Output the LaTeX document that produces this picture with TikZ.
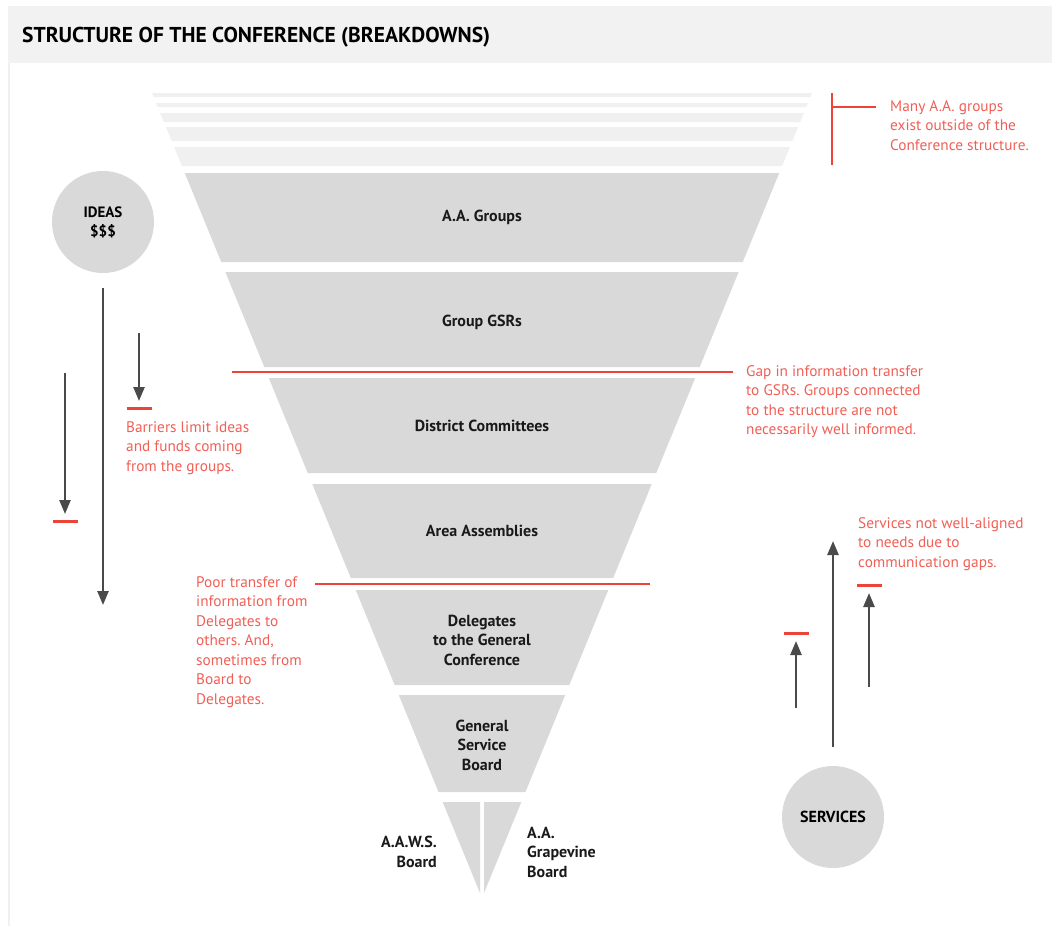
\documentclass[tikz,border=0pt]{standalone}
\usepackage{fontspec}
\setmainfont{PT Sans}
\usetikzlibrary{positioning, arrows.meta}
\definecolor{bandgray}{HTML}{D9D9D9}
\definecolor{fadegray}{HTML}{F0F0F0}
\definecolor{titlegray}{HTML}{F2F2F2}
\definecolor{alertred}{HTML}{EE4338}
\definecolor{flowgray}{HTML}{4A4A4A}
\newcommand{\funnelband}[3]{\fill[#3] ({482-0.41*(898-#1)},#1) -- ({482+0.41*(898-#1)},#1) -- ({482+0.41*(898-#2)},#2) -- ({482-0.41*(898-#2)},#2) -- cycle;}
\frenchspacing

\begin{document}
\begin{tikzpicture}[x=1pt, y=-1pt,
	tier/.style={font=\bfseries\fontsize{16}{19.5}\selectfont, align=center, text=black!90},
	note/.style={font=\fontsize{15.3}{19.5}\selectfont, text=alertred!85, align=left, anchor=north west, inner sep=0pt},
	hub/.style={circle, fill=bandgray, minimum size=102pt, inner sep=0pt, font=\bfseries\fontsize{15}{19}\selectfont, align=center},
	flow/.style={line width=2.5pt, draw=flowgray, -{Triangle[length=14pt,width=11pt]}},
	barrier/.style={line width=3pt, alertred},
	redline/.style={line width=2.5pt, alertred}]
			\useasboundingbox	(0,0) rectangle (1052,926);
			\fill	[titlegray]	(8,6) rectangle (1052,63);
			\draw	[line width=2pt, fadegray]	(9,63) -- (9,926);
			\node	(title)	at	(22,42)	[anchor=base west, inner sep=0pt, font=\bfseries\fontsize{21.5}{24}\selectfont]	{STRUCTURE OF THE CONFERENCE (BREAKDOWNS)};

			\foreach \t/\b in {93/97, 103/107, 113/122, 127/141, 147/166}
				\funnelband{\t}{\b}{fadegray};
			\foreach \t/\b in {173/262, 272/367, 378/473, 484/578, 590/685, 695/792}
				\funnelband{\t}{\b}{bandgray};
			\fill	[bandgray]	({482-0.41*96},802) -- (480,802) -- (480,893) -- cycle;
			\fill	[bandgray]	(484,802) -- ({482+0.41*96},802) -- (484,893) -- cycle;

			\node	(groups)	at	(482,217)	[tier]	{A.A. Groups};
			\node	(gsrs)		at	(482,322)	[tier]	{Group GSRs};
			\node	(district)	at	(482,426)	[tier]	{District Committees};
			\node	(area)		at	(482,531)	[tier]	{Area Assemblies};
			\node	(delegates)	at	(482,640)	[tier]	{Delegates\\to the General\\Conference};
			\node	(gsb)		at	(482,745)	[tier]	{General\\Service\\Board};
			\node	(aaws)		at	(437,852)	[tier, anchor=east, align=right, inner sep=0pt]	{A.A.W.S.\\Board};
			\node	(grapevine)	at	(527,852)	[tier, anchor=west, align=left, inner sep=0pt]	{A.A.\\Grapevine\\Board};

			\node	(ideas)		at	(103,222)	[hub]	{IDEAS\\\$\$\$};
			\node	(services)	at	(833,817)	[hub, font=\bfseries\fontsize{16}{19}\selectfont]	{SERVICES};

			\coordinate	(ideasend)		at	(103,605);
			\coordinate	(downAfoot)		at	(139,333);
			\coordinate	(downAtip)		at	(139,401);
			\coordinate	(downAbar)		at	(139,408);
			\coordinate	(downBfoot)		at	(65,373);
			\coordinate	(downBtip)		at	(65,514);
			\coordinate	(downBbar)		at	(65,521);
			\coordinate	(servicesend)	at	(833,541);
			\coordinate	(upAfoot)		at	(796,708);
			\coordinate	(upAtip)		at	(796,641);
			\coordinate	(upAbar)		at	(796,633);
			\coordinate	(upBfoot)		at	(869,687);
			\coordinate	(upBtip)		at	(869,593);
			\coordinate	(upBbar)		at	(869,585);

			\draw	[flow, shorten <=15pt]	(ideas)		-- (ideasend);
			\draw	[flow]					(downAfoot)	-- (downAtip);
			\draw	[flow]					(downBfoot)	-- (downBtip);
			\draw	[flow, shorten <=19pt]	(services)	-- (servicesend);
			\draw	[flow]					(upAfoot)	-- (upAtip);
			\draw	[flow]					(upBfoot)	-- (upBtip);
			\foreach \m in {downAbar, downBbar, upAbar, upBbar}
				\draw	[barrier]	([xshift=-12.5pt]\m) -- ([xshift=12.5pt]\m);

			\node	(outside)	at	(890,100)	[note]	{Many A.A. groups\\exist outside of the\\Conference structure.};
			\node	(gapnote)	at	(746,365)	[note]	{Gap in information transfer\\to GSRs. Groups connected\\to the structure are not\\necessarily well informed.};
			\node	(barriers)	at	(126,421)	[note]	{Barriers limit ideas\\and funds coming\\from the groups.};
			\node	(poornote)	at	(196,576)	[note]	{Poor transfer of\\information from\\Delegates to\\others. And,\\sometimes from\\Board to\\Delegates.};
			\node	(servnote)	at	(858,517)	[note]	{Services not well-aligned\\to needs due to\\communication gaps.};

			\coordinate	(bracktop)	at	(832,93);
			\coordinate	(brackbot)	at	(832,165);
			\coordinate	(brackmid)	at	(832,107);
			\coordinate	(bracktick)	at	(876,107);
			\draw	[redline, line width=2pt]	(bracktop) -- (brackbot);
			\draw	[redline, line width=2pt]	(brackmid) -- (bracktick);
			\coordinate	(gapstart)	at	(232,372);
			\coordinate	(gapend)	at	(733,372);
			\draw	[redline]	(gapstart) -- (gapend);
			\coordinate	(poorstart)	at	(315,584);
			\coordinate	(poorend)	at	(650,584);
			\draw	[redline]	(poorstart) -- (poorend);
		\end{tikzpicture}
\end{document}
